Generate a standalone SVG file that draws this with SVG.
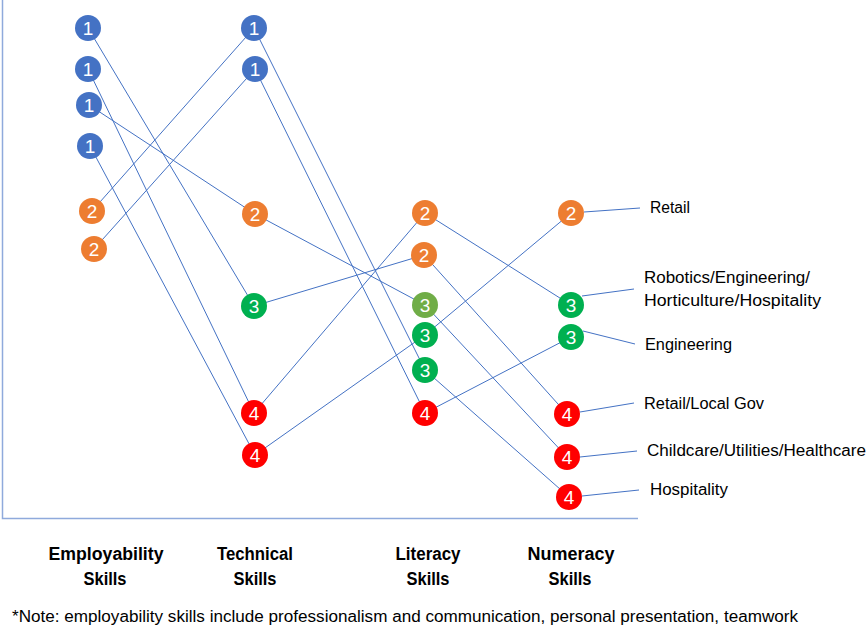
<svg xmlns="http://www.w3.org/2000/svg" width="868" height="626" viewBox="0 0 868 626">
<style>
.axis{stroke:#8FAADC;stroke-width:1.5;fill:none}
.c line{stroke:#4472C4;stroke-width:1}
.n text{font-family:"Liberation Sans",Arial,sans-serif;font-size:19px;fill:#fff;text-anchor:middle}
.b{fill:#4472C4}.o{fill:#ED7D31}.g{fill:#00B050}.lg{fill:#70AD47}.r{fill:#FF0000}
.lab{font-family:"Liberation Sans",Arial,sans-serif;font-size:16px;fill:#000}
.hd{font-family:"Liberation Sans",Arial,sans-serif;font-size:18px;font-weight:bold;fill:#000;text-anchor:middle}
.note{font-family:"Liberation Sans",Arial,sans-serif;font-size:16px;fill:#000}
</style>
<rect width="868" height="626" fill="#fff"/>
<path class="axis" d="M2.5,0 V518.5 H638"/>
<g id="connectors" class="c">
<line x1="88" y1="28" x2="254" y2="306"/>
<line x1="88" y1="69" x2="254" y2="413"/>
<line x1="89" y1="105" x2="255" y2="214"/>
<line x1="90" y1="146" x2="255" y2="455"/>
<line x1="92" y1="211" x2="254" y2="28"/>
<line x1="94" y1="249" x2="255" y2="69"/>
<line x1="254" y1="28" x2="425" y2="370"/>
<line x1="255" y1="69" x2="425" y2="413"/>
<line x1="255" y1="214" x2="425" y2="305"/>
<line x1="254" y1="306" x2="424" y2="255"/>
<line x1="254" y1="413" x2="425" y2="213"/>
<line x1="255" y1="455" x2="425" y2="335"/>
<line x1="425" y1="213" x2="571" y2="305"/>
<line x1="424" y1="255" x2="567" y2="414"/>
<line x1="425" y1="305" x2="567" y2="457"/>
<line x1="425" y1="335" x2="571" y2="213"/>
<line x1="425" y1="370" x2="569" y2="497"/>
<line x1="425" y1="413" x2="571" y2="337"/>
<line x1="584" y1="212" x2="640" y2="208"/>
<line x1="582" y1="296" x2="634" y2="289"/>
<line x1="583" y1="331" x2="635" y2="344"/>
<line x1="580" y1="412" x2="634" y2="403"/>
<line x1="580" y1="457" x2="637" y2="451"/>
<line x1="582" y1="496" x2="639" y2="490"/>
</g>
<g class="n">
<g id="emp1a"><circle class="b" cx="88" cy="28" r="13"/><text x="88" y="35">1</text></g>
<g id="emp1b"><circle class="b" cx="88" cy="69" r="13"/><text x="88" y="76">1</text></g>
<g id="emp1c"><circle class="b" cx="89" cy="105" r="13"/><text x="89" y="112">1</text></g>
<g id="emp1d"><circle class="b" cx="90" cy="146" r="13"/><text x="90" y="153">1</text></g>
<g id="emp2a"><circle class="o" cx="92" cy="211" r="13"/><text x="92" y="218">2</text></g>
<g id="emp2b"><circle class="o" cx="94" cy="249" r="13"/><text x="94" y="256">2</text></g>
<g id="tech1a"><circle class="b" cx="254" cy="28" r="13"/><text x="254" y="35">1</text></g>
<g id="tech1b"><circle class="b" cx="255" cy="69" r="13"/><text x="255" y="76">1</text></g>
<g id="tech2"><circle class="o" cx="255" cy="214" r="13"/><text x="255" y="221">2</text></g>
<g id="tech3"><circle class="g" cx="254" cy="306" r="13"/><text x="254" y="313">3</text></g>
<g id="tech4a"><circle class="r" cx="254" cy="413" r="13"/><text x="254" y="420">4</text></g>
<g id="tech4b"><circle class="r" cx="255" cy="455" r="13"/><text x="255" y="462">4</text></g>
<g id="lit2a"><circle class="o" cx="425" cy="213" r="13"/><text x="425" y="220">2</text></g>
<g id="lit2b"><circle class="o" cx="424" cy="255" r="13"/><text x="424" y="262">2</text></g>
<g id="lit3a"><circle class="lg" cx="425" cy="305" r="13"/><text x="425" y="312">3</text></g>
<g id="lit3b"><circle class="g" cx="425" cy="335" r="13"/><text x="425" y="342">3</text></g>
<g id="lit3c"><circle class="g" cx="425" cy="370" r="13"/><text x="425" y="377">3</text></g>
<g id="lit4"><circle class="r" cx="425" cy="413" r="13"/><text x="425" y="420">4</text></g>
<g id="num2"><circle class="o" cx="571" cy="213" r="13"/><text x="571" y="220">2</text></g>
<g id="num3a"><circle class="g" cx="571" cy="305" r="13"/><text x="571" y="312">3</text></g>
<g id="num3b"><circle class="g" cx="571" cy="337" r="13"/><text x="571" y="344">3</text></g>
<g id="num4a"><circle class="r" cx="567" cy="414" r="13"/><text x="567" y="421">4</text></g>
<g id="num4b"><circle class="r" cx="567" cy="457" r="13"/><text x="567" y="464">4</text></g>
<g id="num4c"><circle class="r" cx="569" cy="497" r="13"/><text x="569" y="504">4</text></g>
</g>
<g id="labels">
<text class="lab" x="650" y="213" textLength="40" lengthAdjust="spacingAndGlyphs">Retail</text>
<text class="lab" x="644" y="283" textLength="166" lengthAdjust="spacingAndGlyphs">Robotics/Engineering/</text>
<text class="lab" x="644" y="306" textLength="177" lengthAdjust="spacingAndGlyphs">Horticulture/Hospitality</text>
<text class="lab" x="645" y="350" textLength="87" lengthAdjust="spacingAndGlyphs">Engineering</text>
<text class="lab" x="644" y="409" textLength="120" lengthAdjust="spacingAndGlyphs">Retail/Local Gov</text>
<text class="lab" x="647" y="456" textLength="219" lengthAdjust="spacingAndGlyphs">Childcare/Utilities/Healthcare</text>
<text class="lab" x="650" y="495" textLength="78" lengthAdjust="spacingAndGlyphs">Hospitality</text>
</g>
<g id="headings">
<text class="hd" x="106" y="560" textLength="115" lengthAdjust="spacingAndGlyphs">Employability</text>
<text class="hd" x="105" y="585" textLength="43" lengthAdjust="spacingAndGlyphs">Skills</text>
<text class="hd" x="255" y="560" textLength="76" lengthAdjust="spacingAndGlyphs">Technical</text>
<text class="hd" x="255" y="585" textLength="43" lengthAdjust="spacingAndGlyphs">Skills</text>
<text class="hd" x="428" y="560" textLength="65" lengthAdjust="spacingAndGlyphs">Literacy</text>
<text class="hd" x="428" y="585" textLength="43" lengthAdjust="spacingAndGlyphs">Skills</text>
<text class="hd" x="571" y="560" textLength="87" lengthAdjust="spacingAndGlyphs">Numeracy</text>
<text class="hd" x="570" y="585" textLength="43" lengthAdjust="spacingAndGlyphs">Skills</text>
</g>
<text class="note" x="12" y="622" textLength="786" lengthAdjust="spacingAndGlyphs">*Note: employability skills include professionalism and communication, personal presentation, teamwork</text>
</svg>
